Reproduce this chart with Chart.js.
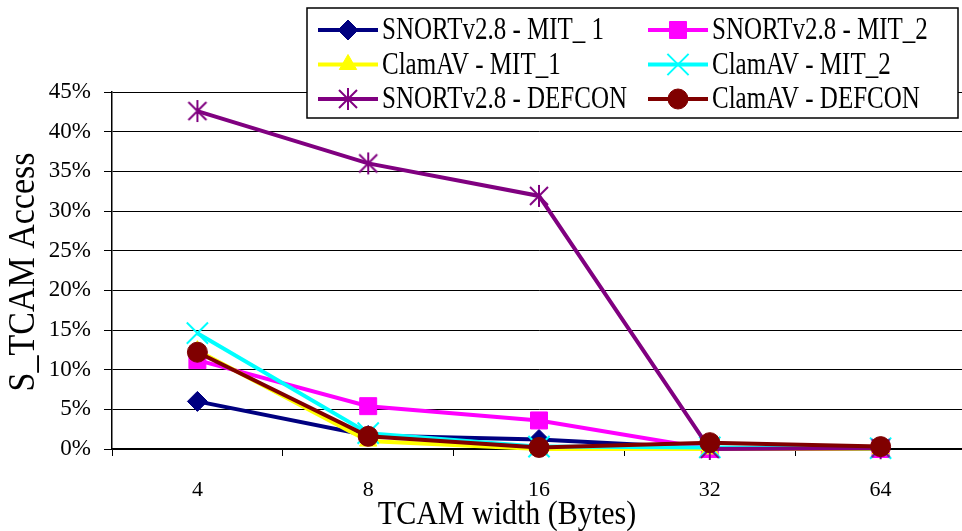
<!DOCTYPE html>
<html>
<head>
<meta charset="utf-8">
<script src="https://cdn.jsdelivr.net/npm/chart.js@4.4.1/dist/chart.umd.min.js"></script>
<style>
  html, body { margin: 0; padding: 0; background: #fff; overflow: hidden; }
  #wrap { width: 983px; height: 531px; }
</style>
</head>
<body>
<div id="wrap"><canvas id="tcamChart" width="983" height="531"></canvas></div>
<script>
// TCAM width in bytes
var widths = ["4", "8", "16", "32", "64"];

// S_TCAM access (%)
var snortMit1   = [6.0, 1.7, 1.2, 0.1, 0.1];
var snortMit2   = [11.2, 5.4, 3.6, 0.0, 0.0];
var clamMit1    = [12.4, 1.0, 0.0, 0.0, 0.0];
var clamMit2    = [14.6, 2.0, 0.3, 0.2, 0.1];
var snortDefcon = [42.6, 36.0, 31.9, 0.0, 0.1];
var clamDefcon  = [12.2, 1.6, 0.2, 0.8, 0.3];

var seriesNames = ["SNORTv2.8 - MIT_ 1", "SNORTv2.8 - MIT_2", "ClamAV - MIT_1",
                   "ClamAV - MIT_2", "SNORTv2.8 - DEFCON", "ClamAV - DEFCON"];

var serif = "'Liberation Serif', 'Times New Roman', serif";

// six-armed asterisk marker
function asterisk(color) {
  var c = document.createElement('canvas');
  c.width = 24; c.height = 24;
  var g = c.getContext('2d');
  g.strokeStyle = color;
  g.lineWidth = 2;
  g.beginPath();
  g.moveTo(12, 1); g.lineTo(12, 23);
  g.moveTo(3, 3); g.lineTo(21, 21);
  g.moveTo(21, 3); g.lineTo(3, 21);
  g.stroke();
  return c;
}

function series(label, data, color, style, radius, bw, idx) {
  return {
    label: label,
    data: data,
    borderColor: color,
    backgroundColor: color,
    borderWidth: 4,
    pointStyle: style,
    pointRadius: radius,
    pointHoverRadius: radius,
    pointBorderWidth: bw,
    pointBorderColor: color,
    pointBackgroundColor: color,
    tension: 0,
    clip: false,
    order: 6 - idx
  };
}

// text squeezed a bit taller than the font's natural shape
function tallText(ctx, text, x, y, stretch) {
  ctx.save();
  ctx.translate(x, y);
  ctx.scale(1, stretch);
  ctx.fillText(text, 0, 0);
  ctx.restore();
}

// two-column legend in a framed box
var boxLegend = {
  id: 'boxLegend',
  afterDraw: function(chart) {
    var ctx = chart.ctx;
    var bx = 307, by = 8, bw = 651, bh = 110;
    ctx.save();
    ctx.fillStyle = '#fff';
    ctx.fillRect(bx, by, bw, bh);
    ctx.strokeStyle = '#000';
    ctx.lineWidth = 1.5;
    ctx.strokeRect(bx, by, bw, bh);
    chart.data.datasets.forEach(function(ds, i) {
      var col = i % 2, row = Math.floor(i / 2);
      var x0 = bx + 11 + col * 330, x1 = x0 + 60;
      var y = by + 22 + row * 34.5;
      ctx.strokeStyle = ds.borderColor;
      ctx.lineWidth = 4;
      ctx.beginPath();
      ctx.moveTo(x0, y); ctx.lineTo(x1, y);
      ctx.stroke();
      ctx.fillStyle = ds.pointBackgroundColor;
      ctx.lineWidth = ds.pointBorderWidth;
      Chart.helpers.drawPoint(ctx, {
        pointStyle: ds.pointStyle, radius: ds.pointRadius, rotation: 0,
        borderWidth: ds.pointBorderWidth
      }, (x0 + x1) / 2, y);
      ctx.fillStyle = '#000';
      ctx.font = '25px ' + serif;
      ctx.textAlign = 'left';
      ctx.textBaseline = 'middle';
      tallText(ctx, ds.label, x1 + 4, y + 1, 1.25);
    });
    ctx.restore();
  }
};

// axis titles
var axisTitles = {
  id: 'axisTitles',
  afterDraw: function(chart) {
    var ctx = chart.ctx;
    ctx.save();
    ctx.fillStyle = '#000';
    ctx.textAlign = 'center';
    ctx.textBaseline = 'middle';
    ctx.font = '30px ' + serif;
    tallText(ctx, 'TCAM width (Bytes)', 507, 515, 1.15);
    ctx.translate(24, 272);
    ctx.rotate(-Math.PI / 2);
    ctx.font = '34px ' + serif;
    tallText(ctx, 'S_TCAM Access', 0, 0, 1.1);
    ctx.restore();
  }
};

new Chart(document.getElementById('tcamChart').getContext('2d'), {
  type: 'line',
  data: {
    labels: widths,
    datasets: [
      series(seriesNames[0], snortMit1, '#000080', 'rectRot', 10, 1, 0),
      series(seriesNames[1], snortMit2, '#ff00ff', 'rect', 12, 1, 1),
      series(seriesNames[2], clamMit1, '#ffff00', 'triangle', 10, 1, 2),
      series(seriesNames[3], clamMit2, '#00ffff', 'crossRot', 15, 2, 3),
      series(seriesNames[4], snortDefcon, '#800080', asterisk('#800080'), 11, 2, 4),
      series(seriesNames[5], clamDefcon, '#800000', 'circle', 10, 1, 5)
    ]
  },
  options: {
    responsive: false,
    animation: false,
    layout: { padding: { top: 92, right: 4, left: 0, bottom: 0 } },
    plugins: {
      legend: { display: false },
      tooltip: { enabled: false }
    },
    scales: {
      x: {
        offset: true,
        grid: {
          offset: true,
          drawOnChartArea: false,
          color: '#000',
          tickLength: 7,
          tickColor: '#000'
        },
        border: { color: '#000', width: 1.5 },
        ticks: {
          color: '#000',
          font: { family: serif, size: 22 },
          padding: 21,
          maxRotation: 0
        },
        afterFit: function(scale) { scale.height = 82; }
      },
      y: {
        min: 0,
        max: 45,
        grid: { color: '#000', lineWidth: 1, tickLength: 8 },
        border: { color: '#000', width: 1.5 },
        ticks: {
          stepSize: 5,
          color: '#000',
          padding: 13,
          font: { family: serif, size: 23 },
          callback: function(v) { return v + '%'; }
        },
        afterFit: function(scale) { scale.width = 112; }
      }
    }
  },
  plugins: [boxLegend, axisTitles]
});
</script>
</body>
</html>
